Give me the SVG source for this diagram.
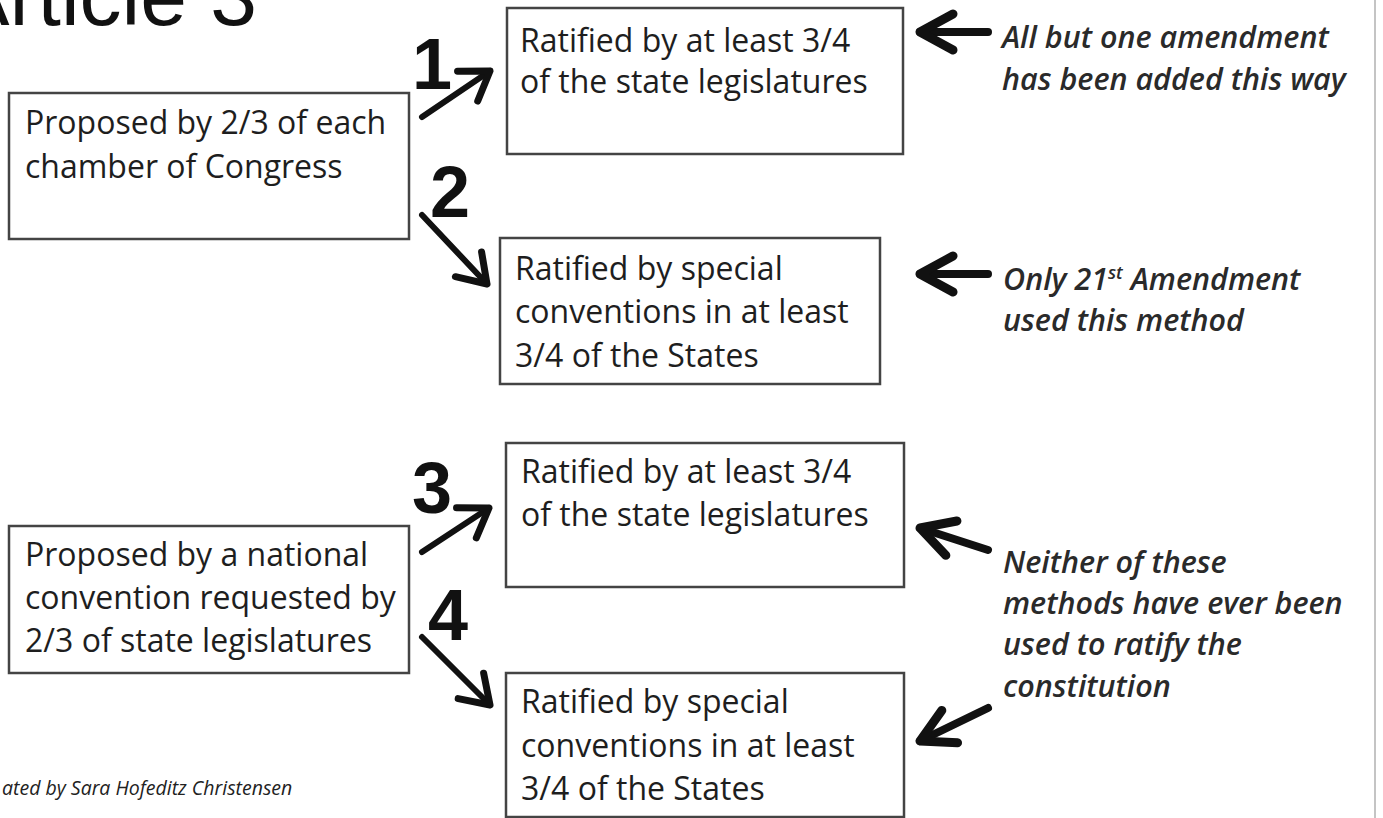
<svg xmlns="http://www.w3.org/2000/svg" width="1383" height="818" viewBox="0 0 1383 818">
<defs>
<style>
.box{fill:#fff;stroke:#444;stroke-width:2.5}
.bt{font-family:"Open Sans","Liberation Sans",sans-serif;font-size:32px;fill:#1e1e1e}
.note{font-family:"Open Sans","Liberation Sans",sans-serif;font-size:30.5px;font-style:italic;font-weight:600;fill:#2a2a2a}
.num{font-family:"Liberation Sans",Arial,sans-serif;font-size:72px;font-weight:bold;fill:#111}
.arr{fill:none;stroke:#111;stroke-width:6;stroke-linecap:round}
.arr2{fill:none;stroke:#111;stroke-width:8;stroke-linecap:round}
</style>
<marker id="ah" viewBox="-40 -30 50 60" refX="0" refY="0" markerWidth="50" markerHeight="60" markerUnits="userSpaceOnUse" orient="auto" overflow="visible">
<path d="M-27,-18 L0,0 L-27,18" fill="none" stroke="#111" stroke-width="7" stroke-linecap="round" stroke-linejoin="round"/>
</marker>
<marker id="ah2" viewBox="-45 -30 55 60" refX="0" refY="0" markerWidth="55" markerHeight="60" markerUnits="userSpaceOnUse" orient="auto" overflow="visible">
<path d="M-33,-18 L0,0 L-33,18" fill="none" stroke="#111" stroke-width="9" stroke-linecap="round" stroke-linejoin="round"/>
</marker>
</defs>
<rect x="0" y="0" width="1383" height="818" fill="#fff"/>
<line x1="1375" y1="0" x2="1375" y2="818" stroke="#c4c4c4" stroke-width="2"/>
<text x="257" y="25" text-anchor="end" font-family="Liberation Sans, Arial, sans-serif" font-size="84" fill="#111">Article 3</text>

<g id="congress">
<rect class="box" x="9" y="93" width="400" height="146"/>
<text class="bt" x="25" y="134">Proposed by 2/3 of each</text>
<text class="bt" x="25" y="178">chamber of Congress</text>
</g>
<g id="ratify1">
<rect class="box" x="507" y="8" width="396" height="146"/>
<text class="bt" x="520" y="52">Ratified by at least 3/4</text>
<text class="bt" x="520" y="93">of the state legislatures</text>
</g>
<g id="ratify2">
<rect class="box" x="500" y="238" width="380" height="146"/>
<text class="bt" x="515" y="280">Ratified by special</text>
<text class="bt" x="515" y="323">conventions in at least</text>
<text class="bt" x="515" y="367">3/4 of the States</text>
</g>
<g id="convention">
<rect class="box" x="9" y="526" width="400" height="147"/>
<text class="bt" x="25" y="566">Proposed by a national</text>
<text class="bt" x="25" y="609">convention requested by</text>
<text class="bt" x="25" y="652">2/3 of state legislatures</text>
</g>
<g id="ratify3">
<rect class="box" x="506" y="443" width="398" height="144"/>
<text class="bt" x="521" y="483">Ratified by at least 3/4</text>
<text class="bt" x="521" y="526">of the state legislatures</text>
</g>
<g id="ratify4">
<rect class="box" x="506" y="673" width="398" height="144"/>
<text class="bt" x="521" y="713">Ratified by special</text>
<text class="bt" x="521" y="757">conventions in at least</text>
<text class="bt" x="521" y="800">3/4 of the States</text>
</g>
<g id="note1">
<text class="note" x="1002" y="48">All but one amendment</text>
<text class="note" x="1002" y="90">has been added this way</text>
</g>
<g id="note2">
<text class="note" x="1003" y="290">Only 21<tspan font-size="18" dy="-11">st</tspan><tspan dy="11"> Amendment</tspan></text>
<text class="note" x="1003" y="331">used this method</text>
</g>
<g id="note3">
<text class="note" x="1003" y="573">Neither of these</text>
<text class="note" x="1003" y="614">methods have ever been</text>
<text class="note" x="1003" y="655">used to ratify the</text>
<text class="note" x="1003" y="697">constitution</text>
</g>

<g id="connectors">
<path class="arr" d="M422,117 L490,71" marker-end="url(#ah)"/>
<path class="arr" d="M422,215 L487,284" marker-end="url(#ah)"/>
<path class="arr" d="M422,552 L489,508" marker-end="url(#ah)"/>
<path class="arr" d="M422,637 L490,705" marker-end="url(#ah)"/>
<path class="arr2" d="M988,32 L920,32" marker-end="url(#ah2)"/>
<path class="arr2" d="M988,274 L920,274" marker-end="url(#ah2)"/>
<path class="arr2" d="M988,550 L920,528" marker-end="url(#ah2)"/>
<path class="arr2" d="M988,708 L920,741" marker-end="url(#ah2)"/>
<text class="num" x="412" y="89">1</text>
<text class="num" x="430" y="217">2</text>
<text class="num" x="412" y="513">3</text>
<text class="num" x="428" y="640">4</text>
</g>

<text x="2" y="795" font-family="Open Sans, Liberation Sans, sans-serif" font-size="19.5" font-style="italic" fill="#222">ated by Sara Hofeditz Christensen</text>
</svg>
